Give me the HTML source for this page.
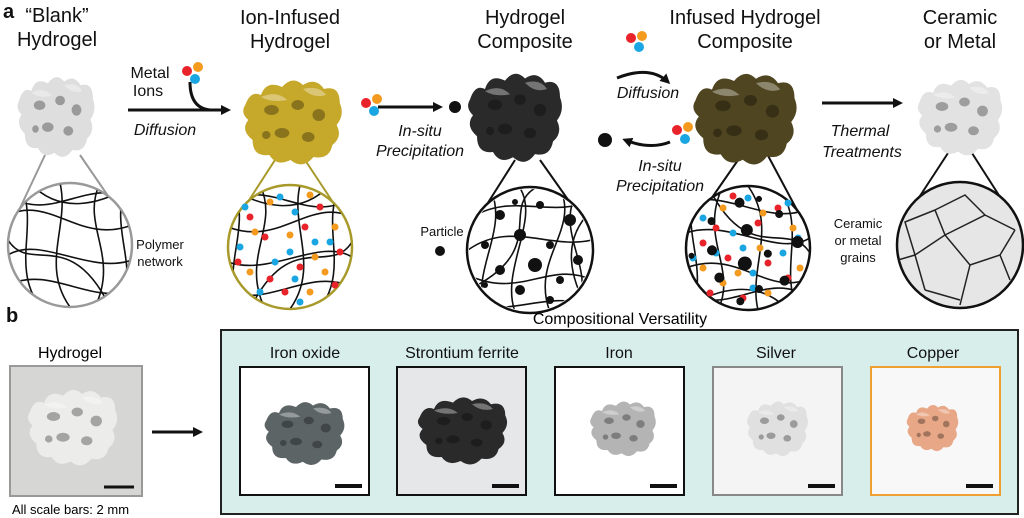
<!DOCTYPE html>
<html><head><meta charset="utf-8"><style>
body{margin:0;background:#fff;width:1024px;height:518px;overflow:hidden}
svg{display:block;font-family:"Liberation Sans",Arial,sans-serif}
</style></head><body>
<svg width="1024" height="518" viewBox="0 0 1024 518" xmlns="http://www.w3.org/2000/svg">
<defs>
<marker id="ah" markerWidth="10" markerHeight="10" refX="7" refY="5" orient="auto" markerUnits="userSpaceOnUse"><path d="M0,0 L10,5 L0,10 Z" fill="#111"/></marker>
<clipPath id="cc"><circle cx="0" cy="0" r="61"/></clipPath>
<g id="gy">
<path fill="currentColor" d="M5,30 Q10,15 20,20 Q25,5 40,12 Q50,0 60,10 Q72,2 80,14 Q95,10 95,28 Q100,40 92,50 Q98,62 88,70 Q85,85 70,82 Q60,95 48,85 Q35,92 28,80 Q12,82 12,65 Q0,55 8,45 Q0,38 5,30Z"/>
<g fill="#000" opacity=".3"><ellipse cx="30" cy="35" rx="7" ry="5"/><ellipse cx="55" cy="30" rx="6" ry="5"/><ellipse cx="75" cy="40" rx="6" ry="6"/><ellipse cx="40" cy="58" rx="7" ry="5"/><ellipse cx="65" cy="62" rx="6" ry="5"/><ellipse cx="25" cy="60" rx="4" ry="4"/></g>
<g fill="#fff" opacity=".35"><path d="M20,22 Q35,15 45,25 Q30,28 20,22Z"/><path d="M60,14 Q75,10 82,20 Q70,24 60,14Z"/></g>
</g>
<g id="net" clip-path="url(#cc)" stroke="#111" stroke-width="1.6" fill="none">
<path d="M-62,-30 C-20,-50 10,0 62,-20"/>
<path d="M-62,10 C-30,-10 20,30 62,15"/>
<path d="M-62,40 C-20,20 20,60 62,45"/>
<path d="M-50,-62 C-30,-20 -60,20 -30,62"/>
<path d="M-10,-62 C0,-20 -30,20 0,62"/>
<path d="M30,-62 C10,-20 50,10 25,62"/>
<path d="M55,-62 C40,-10 70,20 50,62"/>
<path d="M-62,-50 C-20,-20 20,-70 62,-45"/>
<path d="M-62,-5 C-40,30 0,-20 40,62"/>
<path d="M-40,-62 C-10,-30 30,-40 62,-60"/>
</g>
<g id="ions">
<circle cx="-40" cy="-30" r="3.5" fill="#e8232a"/><circle cx="-20" cy="-45" r="3.5" fill="#f39a1f"/><circle cx="5" cy="-35" r="3.5" fill="#1aa6e2"/><circle cx="30" cy="-40" r="3.5" fill="#e8232a"/><circle cx="45" cy="-20" r="3.5" fill="#f39a1f"/><circle cx="-50" cy="0" r="3.5" fill="#1aa6e2"/><circle cx="-25" cy="-10" r="3.5" fill="#e8232a"/><circle cx="0" cy="-12" r="3.5" fill="#f39a1f"/><circle cx="25" cy="-5" r="3.5" fill="#1aa6e2"/><circle cx="50" cy="5" r="3.5" fill="#e8232a"/><circle cx="-40" cy="25" r="3.5" fill="#f39a1f"/><circle cx="-15" cy="15" r="3.5" fill="#1aa6e2"/><circle cx="10" cy="20" r="3.5" fill="#e8232a"/><circle cx="35" cy="25" r="3.5" fill="#f39a1f"/><circle cx="-30" cy="45" r="3.5" fill="#1aa6e2"/><circle cx="-5" cy="45" r="3.5" fill="#e8232a"/><circle cx="20" cy="45" r="3.5" fill="#f39a1f"/><circle cx="-10" cy="-50" r="3.5" fill="#1aa6e2"/><circle cx="-35" cy="-15" r="3.5" fill="#f39a1f"/><circle cx="15" cy="-20" r="3.5" fill="#e8232a"/><circle cx="40" cy="-5" r="3.5" fill="#1aa6e2"/><circle cx="-52" cy="15" r="3.5" fill="#e8232a"/><circle cx="0" cy="5" r="3.5" fill="#1aa6e2"/><circle cx="25" cy="10" r="3.5" fill="#f39a1f"/><circle cx="-20" cy="32" r="3.5" fill="#e8232a"/><circle cx="5" cy="32" r="3.5" fill="#1aa6e2"/><circle cx="45" cy="38" r="3.5" fill="#e8232a"/><circle cx="-45" cy="-40" r="3.5" fill="#1aa6e2"/><circle cx="20" cy="-52" r="3.5" fill="#f39a1f"/><circle cx="10" cy="55" r="3.5" fill="#1aa6e2"/>
</g>
<g id="parts" fill="#111">
<circle cx="-30" cy="-35" r="5"/><circle cx="10" cy="-45" r="4"/><circle cx="40" cy="-30" r="6"/><circle cx="-45" cy="-5" r="4"/><circle cx="-10" cy="-15" r="6"/><circle cx="20" cy="-5" r="4"/><circle cx="48" cy="10" r="5"/><circle cx="-30" cy="20" r="5"/><circle cx="5" cy="15" r="7"/><circle cx="30" cy="30" r="4"/><circle cx="-10" cy="40" r="5"/><circle cx="20" cy="50" r="4"/><circle cx="-45" cy="35" r="3"/><circle cx="-15" cy="-48" r="3"/>
</g>
</defs>
<g font-size="20" fill="#111" text-anchor="middle">
<text x="3" y="18" font-weight="bold" text-anchor="start">a</text>
<text x="57" y="22">“Blank”</text><text x="57" y="46">Hydrogel</text>
<text x="290" y="24">Ion-Infused</text><text x="290" y="48">Hydrogel</text>
<text x="525" y="24">Hydrogel</text><text x="525" y="48">Composite</text>
<text x="745" y="24">Infused Hydrogel</text><text x="745" y="48">Composite</text>
<text x="960" y="24">Ceramic</text><text x="960" y="48">or Metal</text>
<text x="6" y="322" font-weight="bold" text-anchor="start">b</text>
</g>
<!-- cones -->
<g stroke="#999" stroke-width="2"><line x1="45" y1="155" x2="12" y2="225"/><line x1="80" y1="155" x2="128" y2="225"/></g>
<g stroke="#a89a2a" stroke-width="2"><line x1="275" y1="160" x2="233" y2="225"/><line x1="305" y1="160" x2="348" y2="225"/></g>
<g stroke="#111" stroke-width="2"><line x1="515" y1="160" x2="472" y2="228"/><line x1="540" y1="160" x2="588" y2="228"/>
<line x1="745" y1="150" x2="693" y2="225"/><line x1="765" y1="150" x2="805" y2="225"/>
<line x1="950" y1="150" x2="901" y2="225"/><line x1="970" y1="150" x2="1018" y2="225"/></g>
<!-- gyroids -->
<use href="#gy" transform="translate(15,72) scale(.82,.95)" color="#dedede"/>
<use href="#gy" transform="translate(240,75) scale(1.05,1)" color="#c6a82a"/>
<use href="#gy" transform="translate(465,68) scale(1.0,1.05)" color="#2a2a2a"/>
<use href="#gy" transform="translate(690,68) scale(1.1,1.08)" color="#4f4520"/>
<use href="#gy" transform="translate(915,75) scale(.9,.9)" color="#e2e2e2"/>
<!-- circles -->
<circle cx="70" cy="245" r="62" fill="#fff" stroke="#999" stroke-width="2.5"/>
<circle cx="290" cy="247" r="62" fill="#fff" stroke="#a89a2a" stroke-width="2.5"/>
<circle cx="530" cy="250" r="63" fill="#fff" stroke="#111" stroke-width="2.5"/>
<circle cx="748" cy="248" r="62" fill="#fff" stroke="#111" stroke-width="2.5"/>
<circle cx="960" cy="245" r="63" fill="#e6e6e6" stroke="#111" stroke-width="2.5"/>
<use href="#net" transform="translate(70,245)"/>
<use href="#net" transform="translate(290,247) scale(-1,1)"/>
<use href="#ions" transform="translate(290,247)"/>
<use href="#net" transform="translate(530,250) rotate(90)"/>
<use href="#parts" transform="translate(530,250)"/>
<use href="#net" transform="translate(748,248) rotate(180)"/>
<use href="#ions" transform="translate(748,248) rotate(90)"/>
<use href="#parts" transform="translate(748,248) rotate(30)"/>
<g stroke="#222" stroke-width="1.5" fill="none">
<path d="M905,222 L935,210 L945,235 L915,255 Z M935,210 L965,195 L985,215 L945,235 M985,215 L1015,230 M945,235 L970,265 L1000,255 L1015,230 M915,255 L925,290 M970,265 L960,305 M1000,255 L1010,280 M898,260 L915,255 M925,290 L960,300"/>
</g>
<!-- arrows row a -->
<g stroke="#111" stroke-width="3" fill="none">
<line x1="128" y1="110" x2="228" y2="110" marker-end="url(#ah)"/>
<path d="M190,82 Q190,108 210,110"/>
<line x1="378" y1="107" x2="440" y2="107" marker-end="url(#ah)"/>
<path d="M617,78 Q650,65 668,82" marker-end="url(#ah)"/>
<path d="M670,142 Q650,150 625,140" marker-end="url(#ah)"/>
<line x1="822" y1="103" x2="900" y2="103" marker-end="url(#ah)"/>
</g>
<g>
<circle cx="187" cy="71" r="5" fill="#e8232a"/><circle cx="198" cy="67" r="5" fill="#f39a1f"/><circle cx="195" cy="79" r="5" fill="#1aa6e2"/>
<circle cx="366" cy="103" r="5" fill="#e8232a"/><circle cx="377" cy="99" r="5" fill="#f39a1f"/><circle cx="374" cy="111" r="5" fill="#1aa6e2"/>
<circle cx="455" cy="107" r="6" fill="#111"/>
<circle cx="631" cy="38" r="5" fill="#e8232a"/><circle cx="642" cy="36" r="5" fill="#f39a1f"/><circle cx="639" cy="47" r="5" fill="#1aa6e2"/>
<circle cx="677" cy="130" r="5" fill="#e8232a"/><circle cx="688" cy="127" r="5" fill="#f39a1f"/><circle cx="685" cy="139" r="5" fill="#1aa6e2"/>
<circle cx="605" cy="140" r="7" fill="#111"/>
<circle cx="440" cy="251" r="5" fill="#111"/>
</g>
<g font-size="16" fill="#111" text-anchor="middle">
<text x="150" y="78">Metal</text><text x="148" y="96">Ions</text>
<text x="165" y="135" font-style="italic">Diffusion</text>
<text x="420" y="136" font-style="italic">In-situ</text><text x="420" y="156" font-style="italic">Precipitation</text>
<text x="648" y="98" font-style="italic">Diffusion</text>
<text x="660" y="171" font-style="italic">In-situ</text><text x="660" y="191" font-style="italic">Precipitation</text>
<text x="860" y="136" font-style="italic">Thermal</text><text x="862" y="157" font-style="italic">Treatments</text>
</g>
<g font-size="13" fill="#111" text-anchor="middle">
<text x="160" y="249">Polymer</text><text x="160" y="266">network</text>
<text x="442" y="236">Particle</text>
<text x="858" y="228">Ceramic</text><text x="858" y="245">or metal</text><text x="858" y="262">grains</text>
</g>
<!-- part b -->
<text x="70" y="358" font-size="16" text-anchor="middle">Hydrogel</text>
<rect x="10" y="366" width="132" height="130" fill="#d6d6d4" stroke="#999" stroke-width="2"/>
<use href="#gy" transform="translate(25,385) scale(.95,.9)" color="#ececea"/>
<text x="12" y="514" font-size="13">All scale bars: 2 mm</text>
<line x1="104" y1="487" x2="134" y2="487" stroke="#111" stroke-width="3"/>
<line x1="152" y1="432" x2="200" y2="432" stroke="#111" stroke-width="3" marker-end="url(#ah)"/>
<text x="620" y="324" font-size="16" text-anchor="middle">Compositional Versatility</text>
<rect x="221" y="330" width="797" height="184" fill="#d8eeeb" stroke="#222" stroke-width="2"/>
<g font-size="16" text-anchor="middle" fill="#111">
<text x="305" y="358">Iron oxide</text><text x="462" y="358">Strontium ferrite</text><text x="619" y="358">Iron</text><text x="776" y="358">Silver</text><text x="933" y="358">Copper</text>
</g>
<g stroke-width="2">
<rect x="240" y="367" width="129" height="128" fill="#fff" stroke="#111"/>
<rect x="397" y="367" width="129" height="128" fill="#e6e7e8" stroke="#111"/>
<rect x="555" y="367" width="129" height="128" fill="#fff" stroke="#111"/>
<rect x="713" y="367" width="129" height="128" fill="#f4f4f4" stroke="#888"/>
<rect x="871" y="367" width="129" height="128" fill="#f8f8f8" stroke="#f0a030"/>
</g>
<use href="#gy" transform="translate(262,398) scale(.85,.75)" color="#5d6466"/>
<use href="#gy" transform="translate(415,393) scale(.95,.8)" color="#2a2a2a"/>
<use href="#gy" transform="translate(588,398) scale(.7,.65)" color="#b4b4b4"/>
<use href="#gy" transform="translate(745,398) scale(.65,.65)" color="#e0e0e0"/>
<use href="#gy" transform="translate(905,402) scale(.55,.55)" color="#e8a888"/>
<g stroke="#111" stroke-width="4"><line x1="335" y1="486" x2="362" y2="486"/><line x1="492" y1="486" x2="519" y2="486"/><line x1="650" y1="486" x2="677" y2="486"/><line x1="808" y1="486" x2="835" y2="486"/><line x1="966" y1="486" x2="993" y2="486"/></g>
</svg>
</body></html>
